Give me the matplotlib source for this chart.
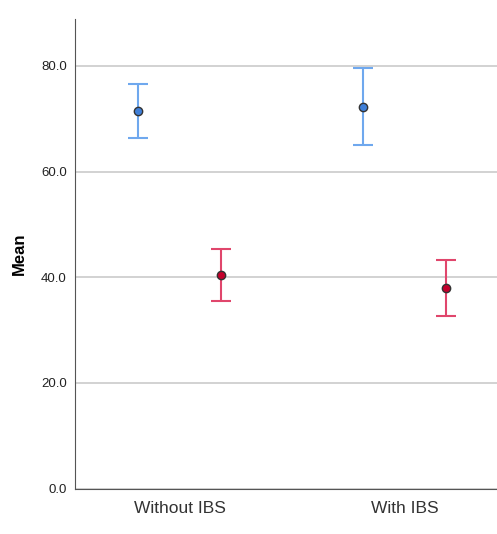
import numpy as np
import matplotlib.pyplot as plt

plt.rcParams['font.family'] = ['Liberation Sans', 'DejaVu Sans']

# Mean with 95% CI per group
groups = ['Without IBS', 'With IBS']
blue_mean = [71.5, 72.3]
blue_low = [66.4, 65.1]
blue_high = [76.6, 79.6]
red_mean = [40.4, 37.9]
red_low = [35.5, 32.7]
red_high = [45.3, 43.2]
yticks = [0, 20, 40, 60, 80]

fig = plt.figure(figsize=(4.97, 5.34), dpi=100)
ax = fig.add_axes([0.151, 0.085, 0.849, 0.8796])

x = np.arange(len(groups))
off = 0.184

def draw(xpos, mean, low, high, bar_col, face_col):
    mean = np.array(mean)
    err = [mean - np.array(low), np.array(high) - mean]
    ax.errorbar(xpos, mean, yerr=err, fmt='none', ecolor=bar_col,
                elinewidth=1.5, capsize=7.2, capthick=1.5, zorder=3)
    ax.plot(xpos, mean, 'o', ms=6, mfc=face_col, mec='#333333', mew=1.0, zorder=4)

draw(x - off, blue_mean, blue_low, blue_high, '#6fa8ee', '#3f7fd8')
draw(x + off, red_mean, red_low, red_high, '#e0466c', '#c4002c')

ax.set_xlim(-0.465, 1.412)
ax.set_ylim(0, 88.9)
ax.set_yticks(yticks)
ax.set_yticklabels([f'{v:.1f}' for v in yticks], fontsize=9.5, color='#222222')
ax.set_xticks(x)
ax.set_xticklabels(groups, fontsize=12.5, color='#333333')
ax.tick_params(length=0)
ax.tick_params(axis='y', pad=6)
ax.tick_params(axis='x', pad=9)
ax.yaxis.grid(True, color='#cfcfcf', linewidth=1.3)
ax.set_axisbelow(True)
ax.set_ylabel('Mean', fontsize=12, fontweight='bold', labelpad=10)

for s in ['top', 'right']:
    ax.spines[s].set_visible(False)
ax.spines['left'].set_color('#555555')
ax.spines['bottom'].set_color('#555555')

fig.savefig('out.png', dpi=100)
